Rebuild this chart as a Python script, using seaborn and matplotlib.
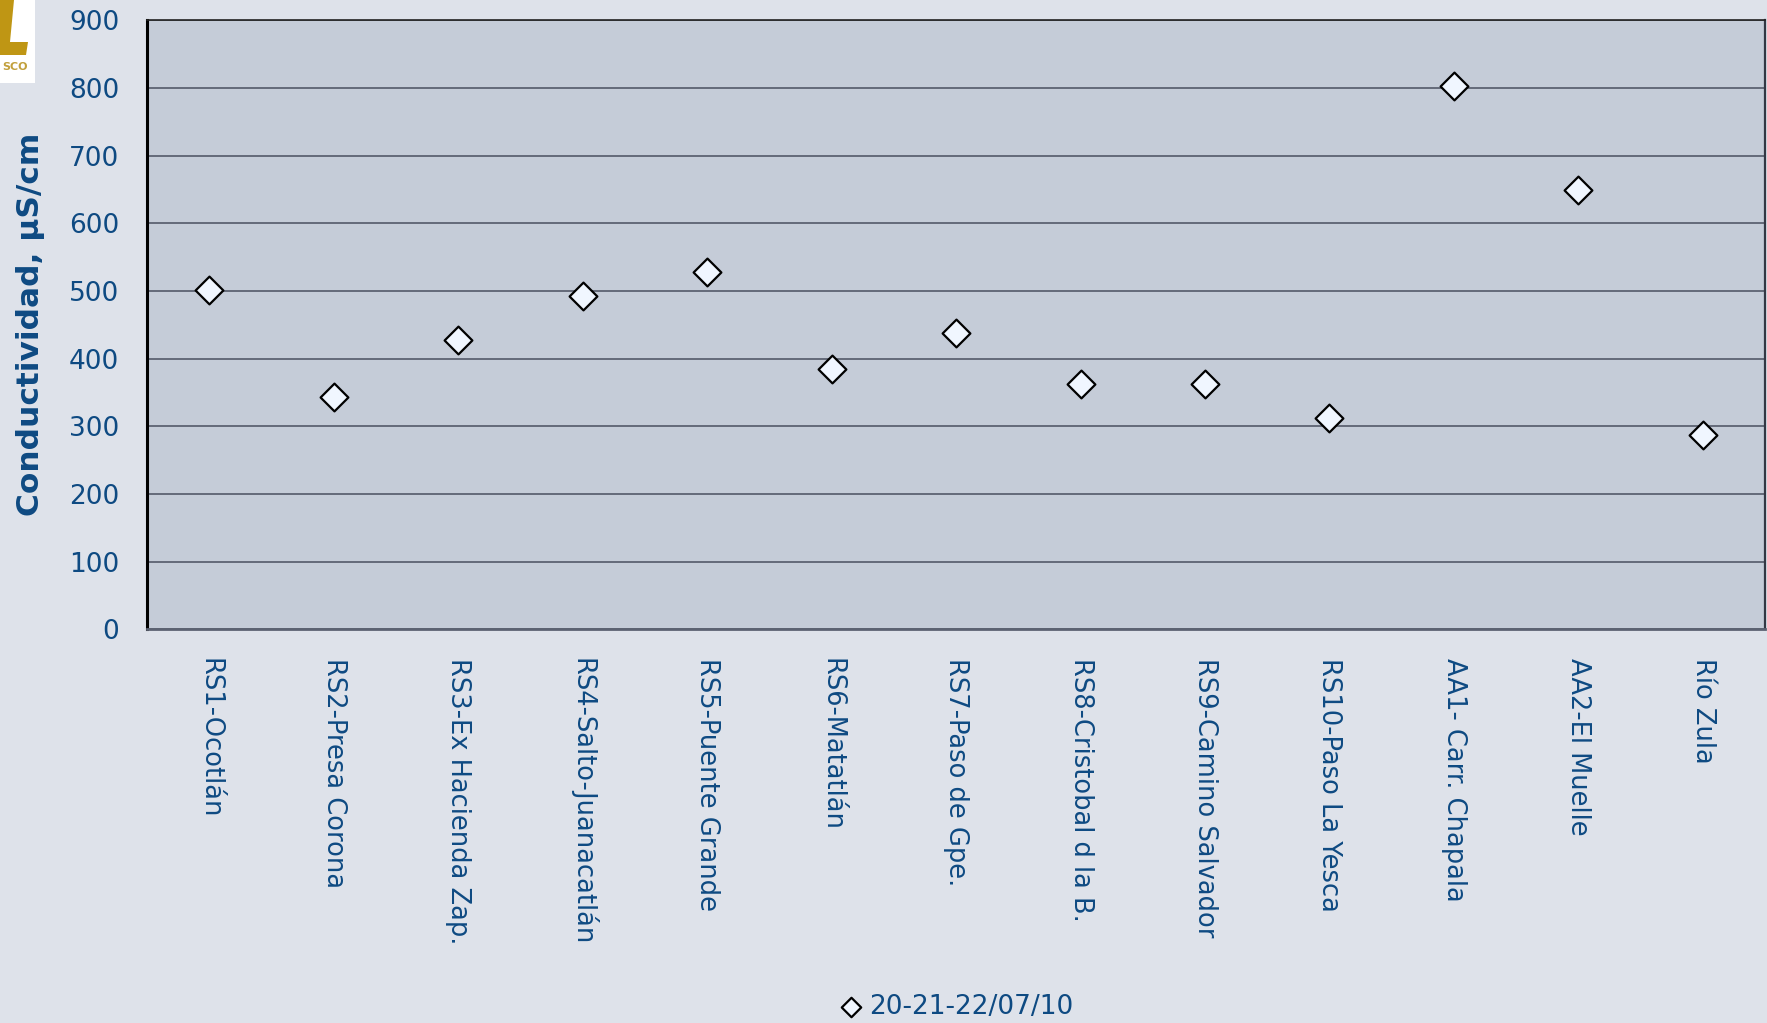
import matplotlib
matplotlib.use("Agg")
import matplotlib.pyplot as plt
from matplotlib.patches import Rectangle, Polygon
import seaborn as sns
import pandas as pd

# Station names and conductivity values
stations = ["RS1-Ocotlán", "RS2-Presa Corona", "RS3-Ex Hacienda Zap.",
            "RS4-Salto-Juanacatlán", "RS5-Puente Grande", "RS6-Matatlán",
            "RS7-Paso de Gpe.", "RS8-Cristobal d la B.", "RS9-Camino Salvador",
            "RS10-Paso La Yesca", "AA1- Carr. Chapala", "AA2-El Muelle", "Río Zula"]
conductividad = [502, 343, 427, 492, 528, 385, 438, 362, 363, 312, 803, 650, 287]
series_label = "20-21-22/07/10"
y_ticks = [0, 100, 200, 300, 400, 500, 600, 700, 800, 900]

# colours
fig_bg = "#DEE2EA"
ax_bg = "#C5CCD8"
grid_col = "#5C6272"
text_col = "#0E4A82"

W, H = 1767, 1023

sns.set_style("white")
plt.rcParams['font.family'] = ['DejaVu Sans']

df = pd.DataFrame({"estacion": stations, "valor": conductividad})

fig = plt.figure(figsize=(W / 100, H / 100), dpi=100, facecolor=fig_bg)
ax = fig.add_axes([0.0832, 0.385, 0.9157, 0.595])
ax.set_facecolor(ax_bg)

sns.scatterplot(data=df, x="estacion", y="valor", ax=ax, marker="D", s=200,
                color="#F0F6FF", edgecolor="black", linewidth=1.6,
                label=series_label, zorder=3)

ax.set_xlim(-0.5, len(stations) - 0.5)
ax.set_ylim(0, 900)
ax.set_yticks(y_ticks)
ax.set_yticklabels([str(v) for v in y_ticks])
ax.yaxis.grid(True, color=grid_col, linewidth=1.3)
ax.xaxis.grid(False)
ax.set_axisbelow(True)

ax.tick_params(axis="y", length=0, pad=20, labelsize=19, labelcolor=text_col)
ax.tick_params(axis="x", length=0, pad=21, labelsize=18.5, labelcolor=text_col)
for lbl in ax.get_xticklabels():
    lbl.set_rotation(-90)
    lbl.set_ha("center")
    lbl.set_va("top")

ax.set_xlabel("")
ax.set_ylabel("Conductividad, µS/cm", fontsize=22.5, fontweight="bold",
              color=text_col)
ax.yaxis.set_label_coords(-0.063, 0.5)

# spines
ax.spines["left"].set_color("black")
ax.spines["left"].set_linewidth(2.2)
ax.spines["bottom"].set_color(grid_col)
ax.spines["bottom"].set_linewidth(2.0)
ax.spines["top"].set_color("#222222")
ax.spines["top"].set_linewidth(1.2)
ax.spines["right"].set_color("#333844")
ax.spines["right"].set_linewidth(1.6)

# legend at bottom centre
handles, labels = ax.get_legend_handles_labels()
ax.get_legend().remove()
fig.legend(handles, labels, loc="center", bbox_to_anchor=(0.541, 0.016),
           frameon=False, fontsize=19, handlelength=0.9, handletextpad=0.25,
           markerscale=0.7, labelcolor=text_col)

# partial logo in the corner (pixel coords from top-left)
def px(x, y):
    return (x / W, 1 - y / H)

fig.patches.append(Rectangle(px(0, 83), 35 / W, 83 / H,
                             transform=fig.transFigure, facecolor="white",
                             edgecolor="none", zorder=0))
logo_L = [px(0, 0), px(14, 0), px(10, 42), px(28, 42), px(26, 55), px(0, 55)]
fig.patches.append(Polygon(logo_L, closed=True, transform=fig.transFigure,
                           facecolor="#BF9614", edgecolor="none", zorder=1))
fig.text(2 / W, 1 - 67 / H, "SCO", fontsize=8, fontweight="bold",
         color="#C2A03C", ha="left", va="center")

fig.savefig("out.png", dpi=100, facecolor=fig_bg)
